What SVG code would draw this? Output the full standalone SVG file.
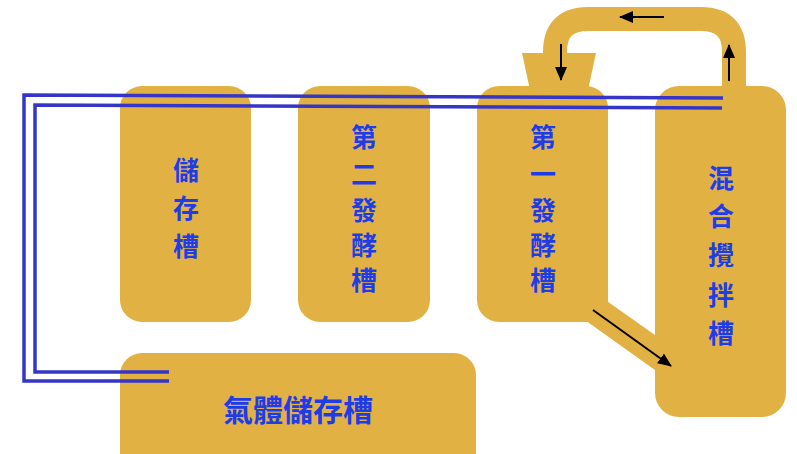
<svg xmlns="http://www.w3.org/2000/svg" width="797" height="454" viewBox="0 0 797 454">
<style>
.tank{fill:#E1B243}
.pipe{fill:none;stroke:#E1B243;stroke-width:24}
.lbl{font-family:"Noto Sans CJK TC","Noto Sans CJK SC",sans-serif;font-weight:bold;font-size:26px;fill:#1E3DE8;text-anchor:middle;dominant-baseline:central}
.gas{fill:none;stroke:#3535C8;stroke-width:3.5}
.arr{fill:none;stroke:#000;stroke-width:2;marker-end:url(#ah)}
</style>
<defs>
<marker id="ah" viewBox="0 0 14 12" refX="13" refY="6" markerWidth="14" markerHeight="12" markerUnits="userSpaceOnUse" orient="auto"><path d="M0,0 L14,6 L0,12 z" fill="#000"/></marker>
</defs>
<rect width="797" height="454" fill="#fff"/>
<g id="loop-pipe">
<path class="pipe" d="M555,60 V52 Q555,19 588,19 H701 Q734,19 734,52 V92"/>
<polygon class="tank" points="522,53 596,53 588,90 530,90"/>
<polygon class="tank" points="604,299 662,340 662,375 582,318"/>
</g>
<g id="tank-storage"><rect class="tank" x="120" y="86" width="131" height="236" rx="22"/>
<text class="lbl" x="186" y="168">儲</text><text class="lbl" x="186" y="206">存</text><text class="lbl" x="186" y="244">槽</text></g>
<g id="tank-ferment2"><rect class="tank" x="298" y="86" width="132" height="236" rx="22"/>
<text class="lbl" x="364" y="135">第</text><text class="lbl" x="364" y="172">二</text><text class="lbl" x="364" y="208">發</text><text class="lbl" x="364" y="243">酵</text><text class="lbl" x="364" y="278">槽</text></g>
<g id="tank-ferment1"><rect class="tank" x="477" y="86" width="131" height="236" rx="22"/>
<text class="lbl" x="543" y="135">第</text><text class="lbl" x="543" y="172">一</text><text class="lbl" x="543" y="208">發</text><text class="lbl" x="543" y="243">酵</text><text class="lbl" x="543" y="278">槽</text></g>
<g id="tank-mix"><rect class="tank" x="655" y="86" width="131" height="331" rx="24"/>
<text class="lbl" x="721" y="176">混</text><text class="lbl" x="721" y="214">合</text><text class="lbl" x="721" y="253">攪</text><text class="lbl" x="721" y="293">拌</text><text class="lbl" x="721" y="331">槽</text></g>
<g id="tank-gas"><rect class="tank" x="120" y="353" width="356" height="130" rx="22"/>
<text class="lbl" x="298" y="408" style="font-size:30px">氣體儲存槽</text></g>
<g id="connectors">
<polyline class="gas" points="723,98 24,95 24,381 169,381"/>
<polyline class="gas" points="722,108 35,105 35,372 169,372"/>
<line class="arr" x1="664" y1="17" x2="620" y2="17"/>
<line class="arr" x1="561" y1="44" x2="561" y2="80"/>
<line class="arr" x1="729" y1="81" x2="729" y2="45"/>
<line class="arr" x1="593" y1="310" x2="671" y2="366"/>
</g>
</svg>
